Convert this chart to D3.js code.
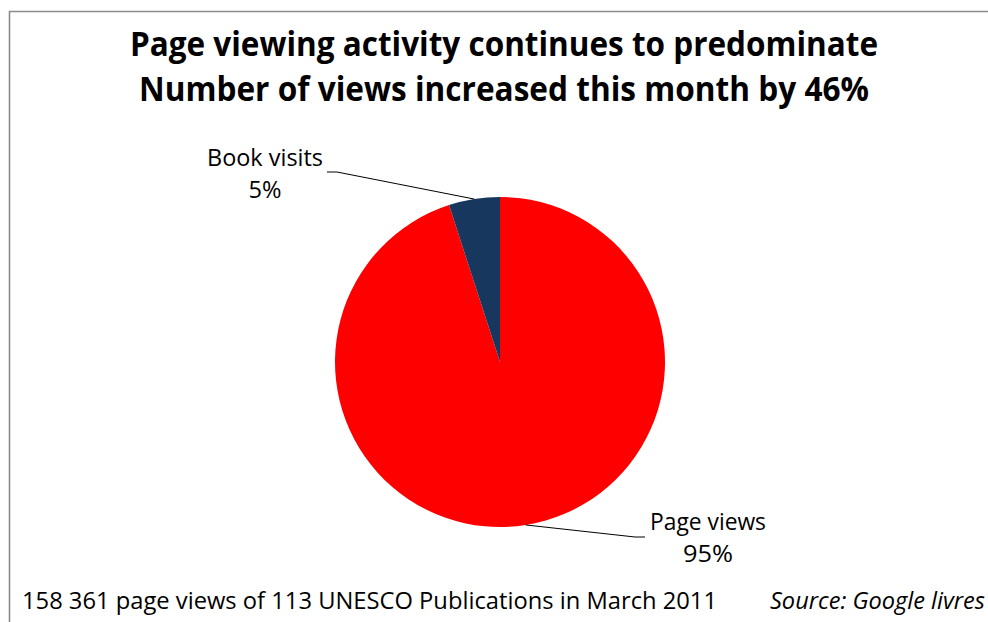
<!DOCTYPE html>
<html>
<head>
<meta charset="utf-8">
<script src="https://cdn.jsdelivr.net/npm/d3@7"></script>
<style>
  html, body { margin: 0; padding: 0; background: #fff; }
  svg { display: block; }
  text { font-family: "Open Sans", "Noto Sans", "DejaVu Sans", sans-serif; fill: #000; }
</style>
</head>
<body>
<svg id="chart" width="988" height="622"></svg>
<script>
// Share of views by activity type
const categories = ["Page views", "Book visits"];
const values = [95, 5];
const colors = ["#FF0000", "#17375E"];
const titleLines = [
  "Page viewing activity continues to predominate",
  "Number of views increased this month by 46%"
];
const footnote = "158 361 page views of 113 UNESCO Publications in March 2011";
const sourceNote = "Source: Google livres";

const svg = d3.select("#chart");
const W = 988, H = 622;

// chart area frame (top and left edges visible)
svg.append("path")
  .attr("d", `M9.5,${H} V11.5 H${W}`)
  .attr("fill", "none")
  .attr("stroke", "#8c8c8c")
  .attr("stroke-width", 1.6);

// titles
const titleSpec = [
  { y: 56, len: 748 },
  { y: 101, len: 730 }
];
titleLines.forEach((t, i) => {
  svg.append("text")
    .attr("x", 504)
    .attr("y", titleSpec[i].y)
    .attr("text-anchor", "middle")
    .attr("font-size", 34)
    .attr("font-weight", "bold")
    .attr("textLength", titleSpec[i].len)
    .attr("lengthAdjust", "spacingAndGlyphs")
    .text(t);
});

// pie
const cx = 500, cy = 362, r = 165;
const pie = d3.pie().sort(null).startAngle(0).endAngle(2 * Math.PI);
const arcs = pie(values);
const arc = d3.arc().innerRadius(0).outerRadius(r);
const edge = d3.arc().innerRadius(r).outerRadius(r);

const g = svg.append("g").attr("transform", `translate(${cx},${cy})`);
g.selectAll("path.slice")
  .data(arcs)
  .join("path")
  .attr("class", "slice")
  .attr("d", arc)
  .attr("fill", (d, i) => colors[i]);

// data labels with leader lines
const labelSpec = [
  { elbow: [635, 537], end: [645, 537], x: 708, y1: 530, y2: 562, len1: 116, len2: 50 },
  { elbow: [337, 172], end: [327, 172], x: 265, y1: 166, y2: 198, len1: 116, len2: 33 }
];
arcs.forEach((d, i) => {
  const s = labelSpec[i];
  const [px, py] = edge.centroid(d);
  svg.append("polyline")
    .attr("points", `${cx + px},${cy + py} ${s.elbow[0]},${s.elbow[1]} ${s.end[0]},${s.end[1]}`)
    .attr("fill", "none")
    .attr("stroke", "#000")
    .attr("stroke-width", 1);
  const pct = Math.round(100 * d.value / d3.sum(values)) + "%";
  svg.append("text")
    .attr("x", s.x).attr("y", s.y1)
    .attr("text-anchor", "middle")
    .attr("font-size", 23)
    .attr("textLength", s.len1)
    .attr("lengthAdjust", "spacingAndGlyphs")
    .text(categories[i]);
  svg.append("text")
    .attr("x", s.x).attr("y", s.y2)
    .attr("text-anchor", "middle")
    .attr("font-size", 23)
    .attr("textLength", s.len2)
    .attr("lengthAdjust", "spacingAndGlyphs")
    .text(pct);
});

// footnotes
svg.append("text")
  .attr("x", 22).attr("y", 609)
  .attr("font-size", 23)
  .attr("textLength", 695)
  .attr("lengthAdjust", "spacingAndGlyphs")
  .text(footnote);
svg.append("text")
  .attr("x", 770).attr("y", 609)
  .attr("font-size", 23)
  .attr("font-style", "italic")
  .attr("textLength", 215)
  .attr("lengthAdjust", "spacingAndGlyphs")
  .text(sourceNote);
</script>
</body>
</html>
